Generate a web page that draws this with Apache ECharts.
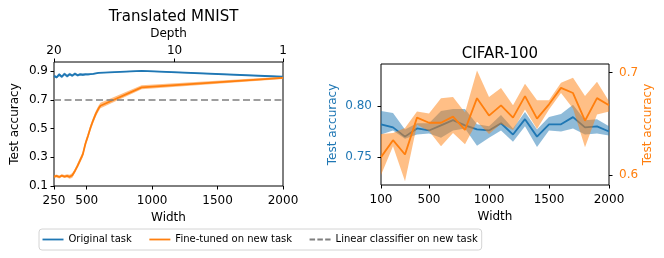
<!DOCTYPE html>
<html>
<head>
<meta charset="utf-8">
<script src="https://cdn.jsdelivr.net/npm/echarts@6/dist/echarts.min.js"></script>
<style>
html,body{margin:0;padding:0;background:#fff;}
#chart{width:664px;height:258px;}
</style>
</head>
<body>
<div id="chart"></div>
<script>
// ---------- Data: Translated MNIST ----------
const mnistWidths = [250,270,290,310,330,350,370,390,410,430,450,470,490,510,530,550,570,590,605,920,2000];
const mnistOrig   = [0.868,0.858,0.878,0.862,0.882,0.866,0.880,0.870,0.883,0.872,0.878,0.876,0.879,0.878,0.880,0.882,0.886,0.889,0.890,0.903,0.862];
const mnistOrigLo = [0.858,0.850,0.866,0.852,0.870,0.856,0.870,0.861,0.872,0.864,0.869,0.868,0.871,0.871,0.874,0.877,0.882,0.885,0.887,0.899,0.858];
const mnistOrigHi = [0.876,0.868,0.888,0.872,0.892,0.878,0.890,0.880,0.893,0.882,0.888,0.885,0.888,0.886,0.887,0.888,0.890,0.893,0.894,0.907,0.866];
const mnistFine   = [0.165,0.170,0.163,0.172,0.166,0.171,0.164,0.175,0.205,0.240,0.280,0.320,0.395,0.450,0.510,0.560,0.605,0.640,0.660,0.788,0.854];
const mnistFineLo = [0.155,0.160,0.153,0.162,0.156,0.160,0.150,0.158,0.190,0.225,0.262,0.300,0.375,0.430,0.490,0.540,0.585,0.620,0.642,0.775,0.846];
const mnistFineHi = [0.175,0.180,0.174,0.182,0.176,0.182,0.178,0.190,0.220,0.258,0.298,0.340,0.415,0.470,0.530,0.580,0.625,0.660,0.680,0.802,0.862];
const linearClassifier = 0.7;
const mnistWidthTicks = [250,500,1000,1500,2000];
const mnistDepthTicks = [1,10,20];
const mnistAccTicks = [0.1,0.3,0.5,0.7,0.9];

// ---------- Data: CIFAR-100 ----------
const cifarWidths = [100,200,300,400,500,600,700,800,900,1000,1100,1200,1300,1400,1500,1600,1700,1800,1900,2000];
const cifarOrig   = [0.782,0.779,0.770,0.778,0.776,0.781,0.786,0.781,0.777,0.776,0.783,0.772,0.787,0.770,0.782,0.782,0.789,0.779,0.780,0.775];
const cifarOrigLo = [0.772,0.776,0.768,0.772,0.773,0.769,0.776,0.778,0.761,0.769,0.776,0.765,0.780,0.760,0.776,0.775,0.778,0.772,0.773,0.771];
const cifarOrigHi = [0.795,0.793,0.777,0.783,0.783,0.795,0.797,0.797,0.782,0.780,0.791,0.778,0.794,0.777,0.789,0.792,0.801,0.786,0.787,0.780];
const cifarFine   = [0.6175,0.634,0.620,0.656,0.651,0.651,0.657,0.644,0.675,0.658,0.668,0.656,0.677,0.655,0.669,0.685,0.680,0.653,0.675,0.668];
const cifarFineLo = [0.600,0.628,0.594,0.649,0.643,0.628,0.641,0.630,0.652,0.640,0.650,0.644,0.664,0.645,0.664,0.680,0.665,0.627,0.659,0.662];
const cifarFineHi = [0.640,0.641,0.646,0.662,0.660,0.675,0.676,0.661,0.702,0.676,0.685,0.668,0.689,0.673,0.673,0.690,0.695,0.677,0.691,0.672];
const cifarWidthTicks = [100,500,1000,1500,2000];
const cifarOrigTicks = [0.75,0.80];
const cifarFineTicks = [0.6,0.7];

const BLUE = '#1f77b4', ORANGE = '#ff7f0e', GRAY = '#7f7f7f';
const BLUE_BAND = 'rgba(31,119,180,0.5)', ORANGE_BAND = 'rgba(255,127,14,0.5)';
const FONT = 'DejaVu Sans';
const TICK_FS = 12, NAME_FS = 12, TITLE_FS = 15;

function pairs(xs, ys){ return xs.map((x,i)=>[x, ys[i]]); }

// Shaded band between lo and hi, positioned through the axes' own scales (api.coord)
function band(xs, lo, hi, fill, xi, yi, z){
  return {
    type:'custom', xAxisIndex:xi, yAxisIndex:yi, z:z, silent:true,
    data:[[xs[0], lo[0]]],
    renderItem:function(params, api){
      const pts = [];
      for (let i = 0; i < xs.length; i++) pts.push(api.coord([xs[i], hi[i]]));
      for (let i = xs.length - 1; i >= 0; i--) pts.push(api.coord([xs[i], lo[i]]));
      return {type:'polygon', shape:{points:pts}, style:{fill:fill, stroke:null}};
    }
  };
}
function mainLine(name, xs, ys, color, xi, yi, z){
  return {type:'line', name:name, xAxisIndex:xi, yAxisIndex:yi, data:pairs(xs, ys), symbol:'none',
    lineStyle:{color:color, width:1.8}, itemStyle:{color:color}, z:z};
}

const tickStyle = {show:true, length:3.5, lineStyle:{color:'#000', width:1}};
const labelBase = {fontFamily:FONT, fontSize:TICK_FS, color:'#000'};
const nameBase = {fontFamily:FONT, fontSize:NAME_FS, color:'#000'};
const intFmt = v => String(Math.round(v));

const LINE_ICON = 'path://M0,0H21V1.8H0Z';
const DASH_ICON = 'path://M0,0H5.5V1.8H0Z M7.8,0H13.3V1.8H7.8Z M15.6,0H21V1.8H15.6Z';

const option = {
  animation:false,
  textStyle:{fontFamily:FONT},
  title:[
    {text:'Translated MNIST', left:168.5, top:5, textAlign:'center',
     textStyle:{fontFamily:FONT, fontSize:TITLE_FS, fontWeight:'normal', color:'#000'}},
    {text:'CIFAR-100', left:495, top:42, textAlign:'center',
     textStyle:{fontFamily:FONT, fontSize:TITLE_FS, fontWeight:'normal', color:'#000'}}
  ],
  legend:{
    data:[
      {name:'Original task', icon:LINE_ICON},
      {name:'Fine-tuned on new task', icon:LINE_ICON},
      {name:'Linear classifier on new task', icon:DASH_ICON}
    ],
    left:39, top:229, orient:'horizontal', itemWidth:21, itemHeight:12, itemGap:17.5,
    symbolKeepAspect:true,
    padding:[5.5,4,5.5,3.5], borderColor:'#d4d4d4', borderWidth:1, borderRadius:3,
    textStyle:{fontFamily:FONT, fontSize:10, color:'#000'},
    selectedMode:false
  },
  grid:[
    {left:54, right:381, top:62, bottom:72, show:true, borderColor:'#000', borderWidth:1, backgroundColor:'transparent', outerBoundsMode:'none'},
    {left:381, right:55, top:64, bottom:73, show:true, borderColor:'#000', borderWidth:1, backgroundColor:'transparent', outerBoundsMode:'none'}
  ],
  xAxis:[
    {type:'value', gridIndex:0, min:250, max:2000, position:'bottom',
     name:'Width', nameLocation:'middle', nameGap:26, nameMoveOverlap:false, nameTextStyle:nameBase,
     axisLine:{show:false}, splitLine:{show:false},
     axisTick:Object.assign({customValues:mnistWidthTicks}, tickStyle),
     axisLabel:Object.assign({customValues:mnistWidthTicks, margin:9, formatter:intFmt}, labelBase)},
    {type:'value', gridIndex:0, min:1, max:20, inverse:true, position:'top',
     name:'Depth', nameLocation:'middle', nameGap:22, nameMoveOverlap:false, nameTextStyle:nameBase,
     axisLine:{show:false}, splitLine:{show:false},
     axisTick:Object.assign({customValues:mnistDepthTicks}, tickStyle),
     axisLabel:Object.assign({customValues:mnistDepthTicks, margin:5, formatter:intFmt}, labelBase)},
    {type:'value', gridIndex:1, min:100, max:2000, position:'bottom',
     name:'Width', nameLocation:'middle', nameGap:26, nameMoveOverlap:false, nameTextStyle:nameBase,
     axisLine:{show:false}, splitLine:{show:false},
     axisTick:Object.assign({customValues:cifarWidthTicks}, tickStyle),
     axisLabel:Object.assign({customValues:cifarWidthTicks, margin:9, formatter:intFmt}, labelBase)}
  ],
  yAxis:[
    {type:'value', gridIndex:0, min:0.1, max:0.965, position:'left',
     name:'Test accuracy', nameLocation:'middle', nameGap:33, nameMoveOverlap:false, nameTextStyle:nameBase,
     axisLine:{show:false}, splitLine:{show:false},
     axisTick:Object.assign({customValues:mnistAccTicks}, tickStyle),
     axisLabel:Object.assign({customValues:mnistAccTicks, margin:6, formatter:v=>v.toFixed(1)}, labelBase)},
    {type:'value', gridIndex:1, min:0.7229, max:0.8407, position:'left',
     name:'Test accuracy', nameLocation:'middle', nameGap:42, nameMoveOverlap:false,
     nameTextStyle:Object.assign({}, nameBase, {color:BLUE}),
     axisLine:{show:false}, splitLine:{show:false},
     axisTick:Object.assign({customValues:cifarOrigTicks}, tickStyle),
     axisLabel:Object.assign({}, labelBase, {customValues:cifarOrigTicks, margin:9, color:BLUE, formatter:v=>v.toFixed(2)})},
    {type:'value', gridIndex:1, min:0.5903, max:0.7083, position:'right',
     name:'Test accuracy', nameLocation:'middle', nameGap:33, nameMoveOverlap:false,
     nameTextStyle:Object.assign({}, nameBase, {color:ORANGE}),
     axisLine:{show:false}, splitLine:{show:false},
     axisTick:Object.assign({customValues:cifarFineTicks}, tickStyle),
     axisLabel:Object.assign({}, labelBase, {customValues:cifarFineTicks, margin:10, color:ORANGE, formatter:v=>v.toFixed(1)})}
  ],
  series:[
    band(mnistWidths, mnistOrigLo, mnistOrigHi, BLUE_BAND, 0, 0, 1),
    mainLine('Original task', mnistWidths, mnistOrig, BLUE, 0, 0, 2),
    band(mnistWidths, mnistFineLo, mnistFineHi, ORANGE_BAND, 0, 0, 3),
    mainLine('Fine-tuned on new task', mnistWidths, mnistFine, ORANGE, 0, 0, 4),
    {type:'line', name:'Linear classifier on new task', xAxisIndex:0, yAxisIndex:0,
     data:[[mnistWidths[0], linearClassifier],[mnistWidths[mnistWidths.length-1], linearClassifier]],
     symbol:'none', lineStyle:{color:GRAY, width:1.6, type:[7,3.5]}, itemStyle:{color:GRAY}, z:5},

    band(cifarWidths, cifarOrigLo, cifarOrigHi, BLUE_BAND, 2, 1, 1),
    mainLine('Original task', cifarWidths, cifarOrig, BLUE, 2, 1, 2),
    band(cifarWidths, cifarFineLo, cifarFineHi, ORANGE_BAND, 2, 2, 3),
    mainLine('Fine-tuned on new task', cifarWidths, cifarFine, ORANGE, 2, 2, 4)
  ]
};

const chart = echarts.init(document.getElementById('chart'), null, {renderer:'canvas'});
chart.setOption(option);
</script>
</body>
</html>
